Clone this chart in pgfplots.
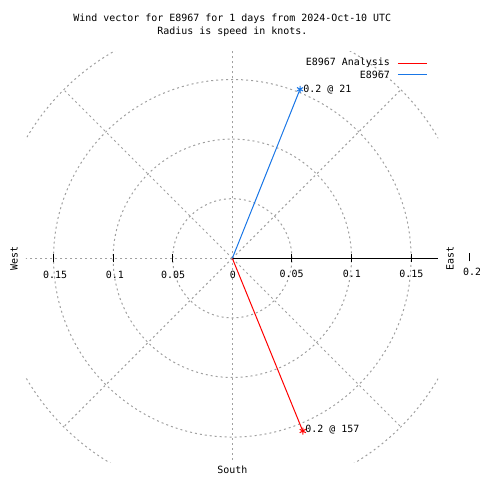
\documentclass[border=0pt]{standalone}
\usepackage{pgfplots}
\pgfplotsset{compat=1.18}
\usepackage{fontspec}
\setmainfont{DejaVu Sans Mono}
\usetikzlibrary{plotmarks}
\definecolor{gridgray}{RGB}{160,160,160}
\definecolor{vecblue}{RGB}{25,118,230}
\begin{document}
\begin{tikzpicture}
\begin{axis}[
  scale only axis, width=480bp, height=480bp,
  xmin=-0.1949, xmax=0.2078, ymin=-0.1860, ymax=0.2167,
  hide axis, clip=false,
  every node/.append style={font=\fontsize{10bp}{12bp}\selectfont},
]
\begin{scope}
\clip (axis cs:-0.1731,-0.1709) rectangle (axis cs:0.1726,0.1731);
\draw[gridgray, line width=1bp, dash pattern=on 2bp off 3bp] (axis cs:0,0) circle[radius=0.05];
\draw[gridgray, line width=1bp, dash pattern=on 2bp off 3bp] (axis cs:0,0) circle[radius=0.1];
\draw[gridgray, line width=1bp, dash pattern=on 2bp off 3bp] (axis cs:0,0) circle[radius=0.15];
\draw[gridgray, line width=1bp, dash pattern=on 2bp off 3bp] (axis cs:0,0) circle[radius=0.2];
\draw[gridgray, line width=1bp, dash pattern=on 2bp off 3bp] (axis cs:0,0) -- (axis cs:0,0.2);
\draw[gridgray, line width=1bp, dash pattern=on 2bp off 3bp] (axis cs:0,0) -- (axis cs:0,-0.2);
\draw[gridgray, line width=1bp, dash pattern=on 2bp off 3bp] (axis cs:0,0) -- (axis cs:-0.2,0);
\draw[gridgray, line width=1bp, dash pattern=on 2bp off 3bp] (axis cs:0,0) -- (axis cs:0.1414,0.1414);
\draw[gridgray, line width=1bp, dash pattern=on 2bp off 3bp] (axis cs:0,0) -- (axis cs:-0.1414,0.1414);
\draw[gridgray, line width=1bp, dash pattern=on 2bp off 3bp] (axis cs:0,0) -- (axis cs:0.1414,-0.1414);
\draw[gridgray, line width=1bp, dash pattern=on 2bp off 3bp] (axis cs:0,0) -- (axis cs:-0.1414,-0.1414);
\end{scope}
% polar axis
\draw[black, line width=1bp] (axis cs:0,0) -- (axis cs:0.1726,0);
\draw[black, line width=1bp] (axis cs:0.05,-0.0034) -- (axis cs:0.05,0.0034);
\draw[black, line width=1bp] (axis cs:0.1,-0.0034) -- (axis cs:0.1,0.0034);
\draw[black, line width=1bp] (axis cs:0.15,-0.0034) -- (axis cs:0.15,0.0034);
\draw[black, line width=1bp] (axis cs:0.1994,-0.0025) -- (axis cs:0.1994,0.0043);
\draw[black, line width=1bp] (axis cs:-0.05,-0.0034) -- (axis cs:-0.05,0.0034);
\draw[black, line width=1bp] (axis cs:-0.1,-0.0034) -- (axis cs:-0.1,0.0034);
\draw[black, line width=1bp] (axis cs:-0.15,-0.0034) -- (axis cs:-0.15,0.0034);
% tick labels
\node at (axis cs:0.0005,-0.0140) {0};
\node at (axis cs:-0.0497,-0.0140) {0.05};
\node at (axis cs:-0.0985,-0.0140) {0.1};
\node at (axis cs:-0.1487,-0.0140) {0.15};
\node at (axis cs:0.0497,-0.0132) {0.05};
\node at (axis cs:0.1003,-0.0132) {0.1};
\node at (axis cs:0.1503,-0.0132) {0.15};
\node[anchor=west, inner sep=0pt] at (axis cs:0.1935,-0.0115) {0.2};
% direction labels
\node[rotate=90] at (axis cs:-0.1831,0) {West};
\node[rotate=90] at (axis cs:0.1826,0) {East};
\node at (axis cs:0,-0.1776) {South};
% title
\node at (axis cs:0,0.2008) {Wind vector for E8967 for 1 days from 2024-Oct-10 UTC};
\node at (axis cs:0,0.1898) {Radius is speed in knots.};
% legend
\node[anchor=east, inner sep=0pt] at (axis cs:0.1323,0.1638) {E8967 Analysis};
\draw[red, line width=1bp] (axis cs:0.1390,0.1638) -- (axis cs:0.1633,0.1638);
\node[anchor=east, inner sep=0pt] at (axis cs:0.1323,0.1538) {E8967};
\draw[vecblue, line width=1bp] (axis cs:0.1390,0.1538) -- (axis cs:0.1633,0.1538);
% data
\addplot[red, line width=1bp] coordinates {(0,0) (0.0591,-0.1449)};
\addplot[vecblue, line width=1bp] coordinates {(0,0) (0.0568,0.1418)};
\addplot[red, only marks, mark=asterisk, mark size=3.5bp, line width=1bp] coordinates {(0.0591,-0.1449)};
\addplot[vecblue, only marks, mark=asterisk, mark size=3.5bp, line width=1bp] coordinates {(0.0568,0.1418)};
\node[anchor=west, inner sep=0pt] at (axis cs:0.0594,0.1415) {0.2 @ 21};
\node[anchor=west, inner sep=0pt] at (axis cs:0.0611,-0.1441) {0.2 @ 157};
\end{axis}
\pgfresetboundingbox
\path (current axis.south west) rectangle (current axis.north east);
\end{tikzpicture}
\end{document}
